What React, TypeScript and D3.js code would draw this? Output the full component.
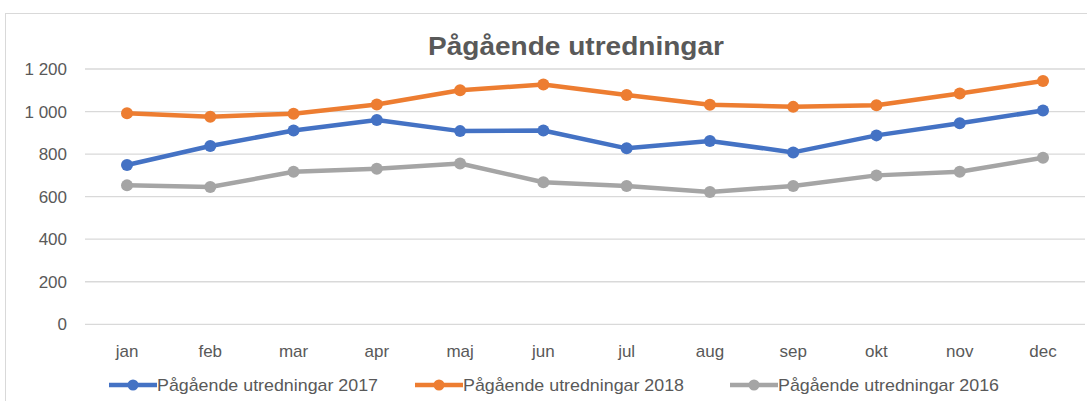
import React from "react";
import * as d3 from "d3";

const months = ["jan", "feb", "mar", "apr", "maj", "jun", "jul", "aug", "sep", "okt", "nov", "dec"];
const values2017 = [749, 838, 911, 960, 908, 911, 827, 862, 808, 888, 945, 1005];
const values2018 = [992, 976, 990, 1033, 1100, 1127, 1078, 1032, 1022, 1030, 1085, 1144];
const values2016 = [653, 645, 717, 731, 756, 668, 650, 622, 650, 700, 717, 783];
const yTicks = [0, 200, 400, 600, 800, 1000, 1200];
const seriesNames = ["Pågående utredningar 2017", "Pågående utredningar 2018", "Pågående utredningar 2016"];
const seriesColors = ["#4472C4", "#ED7D31", "#A5A5A5"];
const title = "Pågående utredningar";

const W = 1087;
const H = 401;
const FONT = "'Liberation Sans', Arial, sans-serif";

export default function App() {
  const x = d3.scalePoint<string>().domain(months).range([127, 1043]);
  const y = d3.scaleLinear().domain([0, 1200]).range([324.3, 69]);
  const line = d3
    .line<number>()
    .x((_, i) => x(months[i]) as number)
    .y((d) => y(d));
  const series = [values2017, values2018, values2016];
  const fmt = (v: number) => (v >= 1000 ? d3.format(",")(v).replace(",", " ") : String(v));
  const legendX = [109, 415, 730];
  const legendY = 385;

  return (
    <div style={{ position: "absolute", left: 0, top: 0 }}>
      <svg width={W} height={H} style={{ display: "block", background: "#fff" }}>
        <rect x={5.5} y={13.5} width={W + 10} height={H + 10} fill="#fff" stroke="#D9D9D9" strokeWidth={1} />
        <text
          x={576}
          y={55}
          textAnchor="middle"
          fontFamily={FONT}
          fontWeight="bold"
          fontSize={25}
          fill="#595959"
          textLength={296}
          lengthAdjust="spacingAndGlyphs"
        >
          {title}
        </text>
        {yTicks.map((t) => (
          <g key={t}>
            <line x1={85} x2={1085} y1={y(t)} y2={y(t)} stroke="#D9D9D9" strokeWidth={1.3} />
            <text x={67} y={y(t)} dy="0.36em" textAnchor="end" fontFamily={FONT} fontSize={17} fill="#595959">
              {fmt(t)}
            </text>
          </g>
        ))}
        {months.map((m) => (
          <text key={m} x={x(m)} y={357} textAnchor="middle" fontFamily={FONT} fontSize={17} fill="#595959">
            {m}
          </text>
        ))}
        {series.map((s, si) => (
          <g key={si}>
            <path d={line(s) || ""} fill="none" stroke={seriesColors[si]} strokeWidth={4.5} strokeLinejoin="round" />
            {s.map((v, i) => (
              <circle key={i} cx={x(months[i])} cy={y(v)} r={6} fill={seriesColors[si]} />
            ))}
          </g>
        ))}
        {seriesNames.map((n, i) => (
          <g key={n}>
            <line x1={legendX[i]} x2={legendX[i] + 48} y1={legendY} y2={legendY} stroke={seriesColors[i]} strokeWidth={4.5} />
            <circle cx={legendX[i] + 24} cy={legendY} r={5.5} fill={seriesColors[i]} />
            <text
              x={legendX[i] + 48}
              y={legendY}
              dy="0.36em"
              fontFamily={FONT}
              fontSize={17}
              fill="#595959"
              textLength={221}
              lengthAdjust="spacingAndGlyphs"
            >
              {n}
            </text>
          </g>
        ))}
      </svg>
    </div>
  );
}
